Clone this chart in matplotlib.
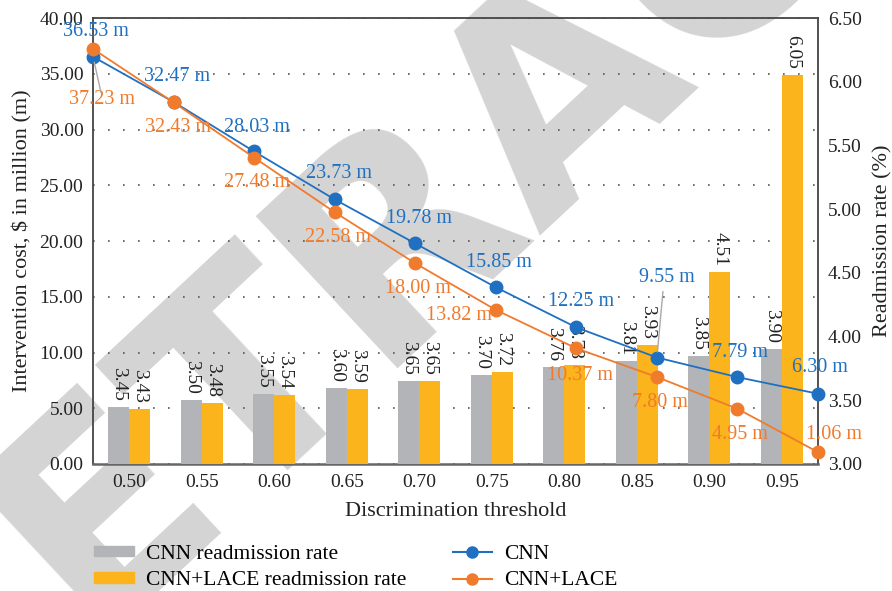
import matplotlib.pyplot as plt
from matplotlib.patches import Patch
from matplotlib.lines import Line2D
import numpy as np

# data
thresholds = ["0.50", "0.55", "0.60", "0.65", "0.70", "0.75", "0.80", "0.85", "0.90", "0.95"]
cnn_rate = [3.45, 3.50, 3.55, 3.60, 3.65, 3.70, 3.76, 3.81, 3.85, 3.90]
lace_rate = [3.43, 3.48, 3.54, 3.59, 3.65, 3.72, 3.78, 3.93, 4.51, 6.05]
cnn_cost = [36.53, 32.47, 28.03, 23.73, 19.78, 15.85, 12.25, 9.55, 7.79, 6.30]
lace_cost = [37.23, 32.43, 27.48, 22.58, 18.00, 13.82, 10.37, 7.80, 4.95, 1.06]

GRAY = "#b3b4b8"
YELLOW = "#fbb41b"
BLUE = "#1f70c1"
ORANGE = "#f07b2d"
TXT = "#222222"
FS = 14

plt.rcParams['font.family'] = ['Liberation Serif', 'DejaVu Serif']

fig = plt.figure(figsize=(8.92, 5.91), dpi=100)

# watermark behind everything
fig.text(0.63, 0.86, "RETRACTED", rotation=43, ha='center', va='center',
         fontsize=205, fontweight='bold', family='DejaVu Sans',
         color='#d4d4d4', zorder=-1)

rect = [0.1043, 0.2149, 0.8128, 0.7546]

# bottom axes: left scale + dotted grid
ax = fig.add_axes(rect)
ax.set_facecolor('none')
ax.set_ylim(0, 40)
ax.set_yticks(np.arange(0, 41, 5))
ax.set_yticklabels([f"{v:.2f}" for v in np.arange(0, 41, 5)])
ax.set_xlim(-0.5, 9.5)
ax.set_xticks(np.arange(len(thresholds)))
ax.set_xticklabels(thresholds)
ax.yaxis.grid(True, linestyle=(0, (1, 8)), color='#555555', lw=1.2)
ax.tick_params(length=0, labelsize=FS, colors=TXT, pad=7)
ax.set_xlabel("Discrimination threshold", fontsize=16, color=TXT, labelpad=8)
ax.set_ylabel("Intervention cost, $ in million (m)", fontsize=16, color=TXT, labelpad=5)
for s in ax.spines.values():
    s.set_color('#444444')
    s.set_linewidth(1.3)
ax.spines['bottom'].set_linewidth(1.8)
ax.spines['bottom'].set_color('#666666')

# bar axes: right scale
axb = fig.add_axes(rect)
axb.set_facecolor('none')
x = np.arange(len(thresholds))
w = 0.29
axb.bar(x - w / 2, cnn_rate, w, color=GRAY)
axb.bar(x + w / 2, lace_rate, w, color=YELLOW)
axb.set_xlim(-0.5, 9.5)
axb.set_ylim(3.0, 6.5)
axb.set_yticks(np.arange(3.0, 6.51, 0.5))
axb.set_yticklabels([f"{v:.2f}" for v in np.arange(3.0, 6.51, 0.5)])
axb.yaxis.tick_right()
axb.yaxis.set_label_position('right')
axb.set_ylabel("Readmission rate (%)", fontsize=16, color=TXT, labelpad=8)
axb.set_xticks([])
axb.tick_params(length=0, labelsize=FS, colors=TXT, pad=7)
for s in axb.spines.values():
    s.set_visible(False)
for xi, v in zip(x, cnn_rate):
    axb.annotate(f"{v:.2f}", (xi - w / 2, v), xytext=(0, 6), textcoords='offset pixels',
                 rotation=270, ha='center', va='bottom', fontsize=FS, color=TXT)
for xi, v in zip(x, lace_rate):
    axb.annotate(f"{v:.2f}", (xi + w / 2, v), xytext=(0, 6), textcoords='offset pixels',
                 rotation=270, ha='center', va='bottom', fontsize=FS, color=TXT)

# line axes: points spread from left to right edge
axl = fig.add_axes(rect)
axl.set_facecolor('none')
axl.set_xlim(0, 9)
axl.set_ylim(0, 40)
axl.axis('off')
xl = np.arange(len(cnn_cost))
axl.plot(xl, cnn_cost, color=BLUE, lw=1.3, marker='o', ms=9, clip_on=False, zorder=3)
axl.plot(xl, lace_cost, color=ORANGE, lw=1.3, marker='o', ms=9, clip_on=False, zorder=3)

# label offsets in pixels (dx, dy) for each point
cnn_off = [(3, 25), (3, 25), (3, 24), (4, 26), (4, 25), (3, 25), (5, 26), (10, 80), (3, 25), (2, 26)]
lace_off = [(9, -51), (4, -25), (3, -25), (3, -25), (3, -25), (-37, -6), (4, -27), (3, -25), (2, -26), (16, 18)]
for xi, v, (dx, dy) in zip(xl, cnn_cost, cnn_off):
    axl.annotate(f"{v:.2f} m", (xi, v), xytext=(dx, dy), textcoords='offset pixels',
                 ha='center', va='center', fontsize=14.5, color=BLUE, annotation_clip=False)
for xi, v, (dx, dy) in zip(xl, lace_cost, lace_off):
    axl.annotate(f"{v:.2f} m", (xi, v), xytext=(dx, dy), textcoords='offset pixels',
                 ha='center', va='center', fontsize=14.5, color=ORANGE, annotation_clip=False)

# leader lines
axl.annotate("", (0, cnn_cost[0]), xytext=(8, -36), textcoords='offset pixels',
             arrowprops=dict(arrowstyle='-', color='#aaaaaa', lw=1, shrinkA=0, shrinkB=4),
             annotation_clip=False)
axl.annotate("", (7, cnn_cost[7]), xytext=(6, 66), textcoords='offset pixels',
             arrowprops=dict(arrowstyle='-', color='#aaaaaa', lw=1, shrinkA=0, shrinkB=4),
             annotation_clip=False)

handles = [Patch(color=GRAY), Patch(color=YELLOW),
           Line2D([], [], color=BLUE, marker='o', ms=8, lw=1.5),
           Line2D([], [], color=ORANGE, marker='o', ms=8, lw=1.5)]
labels = ["CNN readmission rate", "CNN+LACE readmission rate", "CNN", "CNN+LACE"]
fig.legend(handles, labels, ncol=2, loc='upper left', bbox_to_anchor=(0.096, 0.093),
           frameon=False, fontsize=15.5, handlelength=1.85, handleheight=0.4,
           columnspacing=2.15, labelspacing=0.35, borderaxespad=0, handletextpad=0.55)

fig.savefig("out.png", dpi=100)
